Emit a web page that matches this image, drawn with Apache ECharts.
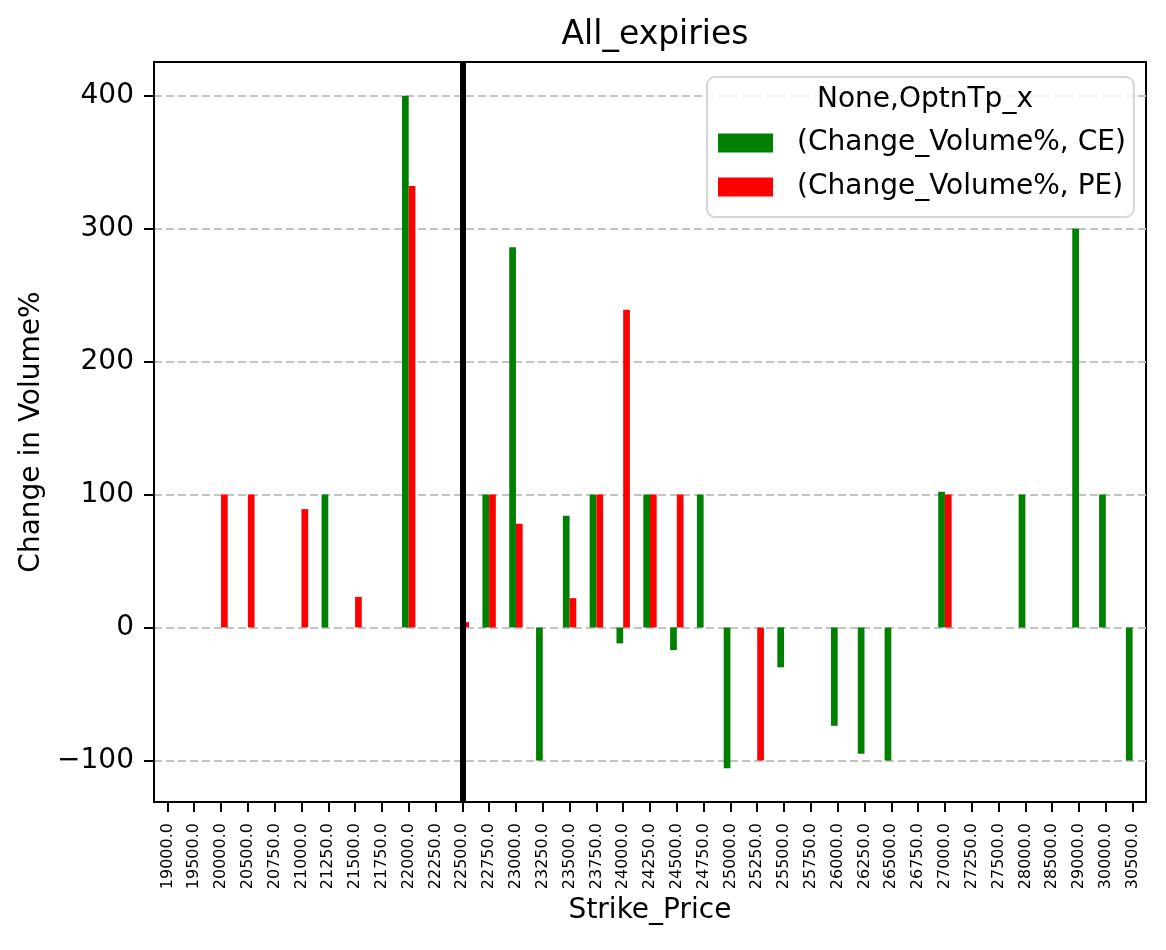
<!DOCTYPE html>
<html>
<head>
<meta charset="utf-8">
<script src="https://cdn.jsdelivr.net/npm/echarts@6/dist/echarts.min.js"></script>
<style>html,body{margin:0;padding:0;background:#fff;}#c{width:1166px;height:950px;}</style>
</head>
<body>
<div id="c"></div>
<script>
const categories = ['19000.0','19500.0','20000.0','20500.0','20750.0','21000.0','21250.0','21500.0','21750.0','22000.0','22250.0','22500.0','22750.0','23000.0','23250.0','23500.0','23750.0','24000.0','24250.0','24500.0','24750.0','25000.0','25250.0','25500.0','25750.0','26000.0','26250.0','26500.0','26750.0','27000.0','27250.0','27500.0','28000.0','28500.0','29000.0','30000.0','30500.0'];
const ceValues = [null,null,null,null,null,null,100,null,null,400,null,null,100,286,-100,84,100,-12,100,-17,100,-106,null,-30,null,-74,-95,-100,null,102,null,null,100,null,300,100,-100];
const peValues = [null,null,100,100,null,89,null,23,null,332,null,4,100,78,null,22,100,239,100,100,null,null,-100,null,null,null,null,null,null,100,null,null,null,null,null,null,null];
const yTicks = [-100, 0, 100, 200, 300, 400];
const markerStrike = '22500.0';

const FONT = 'DejaVu Sans';
const chart = echarts.init(document.getElementById('c'));
chart.setOption({
  backgroundColor: '#fff',
  animation: false,
  textStyle: { fontFamily: FONT, color: '#000' },
  title: [
    { text: 'All_expiries', left: 650, top: 14, textAlign: 'center',
      textStyle: { fontFamily: FONT, fontSize: 33, fontWeight: 'normal', color: '#000' } },
    { text: 'None,OptnTp_x', left: 920, top: 81, textAlign: 'center',
      textStyle: { fontFamily: FONT, fontSize: 28, fontWeight: 'normal', color: '#000' } }
  ],
  legend: {
    orient: 'vertical',
    left: 707, top: 77,
    padding: [52, 8, 16, 11],
    itemWidth: 55, itemHeight: 19,
    itemGap: 16,
    icon: 'rect',
    borderColor: '#d6d6d6', borderWidth: 2, borderRadius: 8,
    backgroundColor: 'rgba(255,255,255,0.8)',
    textStyle: { fontFamily: FONT, fontSize: 28, lineHeight: 28, color: '#000', padding: [0, 0, 0, 19] },
    data: [
      { name: '(Change_Volume%, CE)', itemStyle: { color: '#008000' } },
      { name: '(Change_Volume%, PE)', itemStyle: { color: '#ff0000' } }
    ]
  },
  grid: {
    left: 154, right: 20, top: 62, bottom: 148,
    show: true, borderColor: '#000', borderWidth: 2, backgroundColor: 'transparent'
  },
  xAxis: {
    type: 'category',
    data: categories,
    boundaryGap: true,
    name: 'Strike_Price',
    nameLocation: 'middle',
    nameGap: 95,
    nameTextStyle: { fontFamily: FONT, fontSize: 28, color: '#000' },
    axisLine: { show: true, onZero: false, lineStyle: { color: '#000', width: 2 } },
    axisTick: { show: true, alignWithLabel: true, length: 10, lineStyle: { color: '#000', width: 2 } },
    axisLabel: { rotate: 90, interval: 0, fontFamily: FONT, fontSize: 16, color: '#000', margin: 21 },
    splitLine: { show: false }
  },
  yAxis: {
    type: 'value',
    min: -131.3, max: 425.3,
    name: 'Change in Volume%',
    nameLocation: 'middle',
    nameGap: 108,
    nameTextStyle: { fontFamily: FONT, fontSize: 28, color: '#000' },
    axisLine: { show: true, lineStyle: { color: '#000', width: 2 } },
    axisTick: { show: true, length: 10, customValues: yTicks, lineStyle: { color: '#000', width: 2 } },
    axisLabel: { customValues: yTicks, fontFamily: FONT, fontSize: 28, color: '#000', margin: 20,
      formatter: v => String(v).replace('-', '\u2212') },
    splitLine: { show: true, lineStyle: { color: '#c4c4c4', width: 2, type: [8, 4] } }
  },
  series: [
    {
      name: '(Change_Volume%, CE)', type: 'bar', data: ceValues,
      itemStyle: { color: '#008000' },
      barGap: '0%', barCategoryGap: '50%'
    },
    {
      name: '(Change_Volume%, PE)', type: 'bar', data: peValues,
      itemStyle: { color: '#ff0000' },
      barGap: '0%', barCategoryGap: '50%'
    },
    {
      name: 'marker', type: 'line', data: [], silent: true,
      markLine: {
        silent: true, symbol: 'none', label: { show: false },
        lineStyle: { color: '#000', width: 6, type: 'solid' },
        data: [{ xAxis: markerStrike }]
      }
    }
  ]
});
</script>
</body>
</html>
